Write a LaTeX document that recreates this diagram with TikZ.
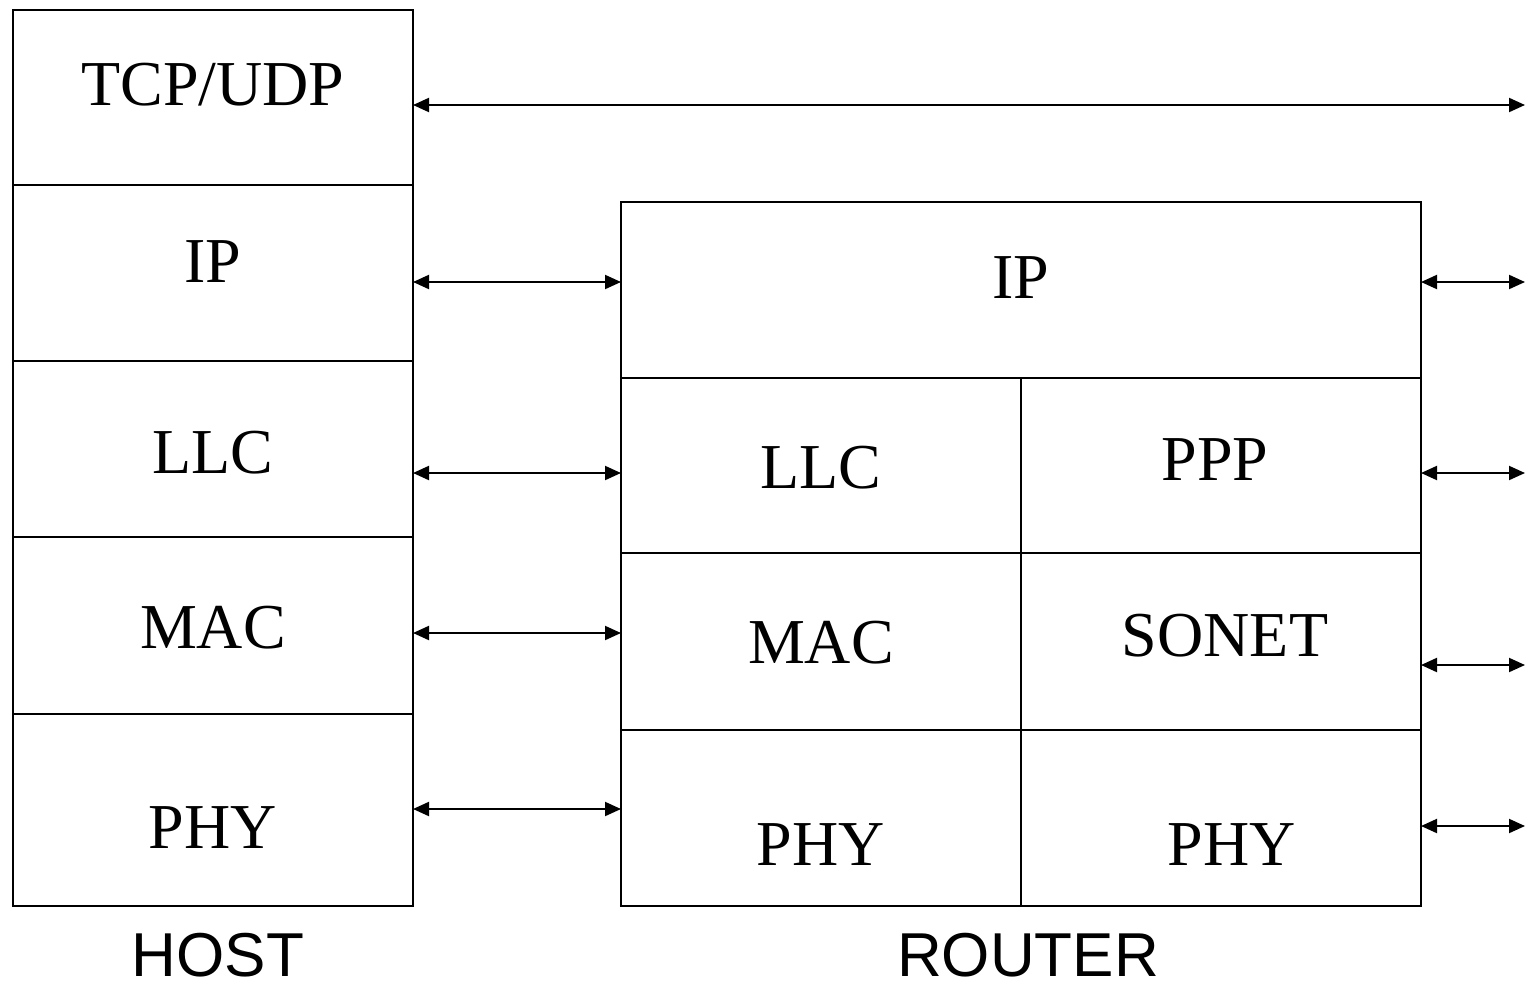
\documentclass[tikz,border=0pt]{standalone}
\usepackage{fontspec}
\setmainfont{Liberation Serif}
\newfontfamily\labelfont{Liberation Sans}
\usetikzlibrary{arrows.meta}
\tikzset{
  layer/.style={draw, line width=2pt, inner sep=0pt, outer sep=0pt},
  ltxt/.style={font=\fontsize{64}{70}\selectfont, inner sep=0pt, anchor=center},
  captext/.style={font=\labelfont\fontsize{62}{68}\selectfont, inner sep=0pt, anchor=base},
  link/.style={line width=2pt, {Triangle[length=16pt,width=14pt]}-{Triangle[length=16pt,width=14pt]}},
}
\begin{document}
\begin{tikzpicture}[x=1pt,y=-1pt]
\useasboundingbox (0,0) rectangle (1526,983);
% host layers
\draw[layer] (13,10) rectangle (413,185);
\draw[layer] (13,185) rectangle (413,361);
\draw[layer] (13,361) rectangle (413,537);
\draw[layer] (13,537) rectangle (413,714);
\draw[layer] (13,714) rectangle (413,906);
% router layers
\draw[layer] (621,202) rectangle (1421,378);
\draw[layer] (621,378) rectangle (1021,553);
\draw[layer] (1021,378) rectangle (1421,553);
\draw[layer] (621,553) rectangle (1021,730);
\draw[layer] (1021,553) rectangle (1421,730);
\draw[layer] (621,730) rectangle (1021,906);
\draw[layer] (1021,730) rectangle (1421,906);
% host texts
\node[ltxt] (htcp) at (213,85) {TCP/UDP};
\node[ltxt] (hip) at (213,262) {IP};
\node[ltxt] (hllc) at (213,453) {LLC};
\node[ltxt] (hmac) at (213,628) {MAC};
\node[ltxt] (hphy) at (213,828) {PHY};
% router texts
\node[ltxt] (rip) at (1021,278) {IP};
\node[ltxt] (rllc) at (821,468) {LLC};
\node[ltxt] (rppp) at (1215,460) {PPP};
\node[ltxt] (rmac) at (821,643) {MAC};
\node[ltxt] (rsonet) at (1225,636) {SONET};
\node[ltxt] (rphya) at (821,845) {PHY};
\node[ltxt] (rphyb) at (1232,845) {PHY};
% captions
\node[captext] (host) at (218,976) {HOST};
\node[captext] (router) at (1028,976) {ROUTER};
% connector endpoints
\coordinate (hA0) at (413,105);  \coordinate (rA0) at (1525,105);
\coordinate (hA1) at (413,282);  \coordinate (rL1) at (621,282);
\coordinate (hA2) at (413,473);  \coordinate (rL2) at (621,473);
\coordinate (hA3) at (413,633);  \coordinate (rL3) at (621,633);
\coordinate (hA4) at (413,809);  \coordinate (rL4) at (621,809);
\coordinate (rR1) at (1421,282); \coordinate (e1) at (1525,282);
\coordinate (rR2) at (1421,473); \coordinate (e2) at (1525,473);
\coordinate (rR3) at (1421,665); \coordinate (e3) at (1525,665);
\coordinate (rR4) at (1421,826); \coordinate (e4) at (1525,826);
\draw[link] (hA0) -- (rA0);
\draw[link] (hA1) -- (rL1);
\draw[link] (hA2) -- (rL2);
\draw[link] (hA3) -- (rL3);
\draw[link] (hA4) -- (rL4);
\draw[link] (rR1) -- (e1);
\draw[link] (rR2) -- (e2);
\draw[link] (rR3) -- (e3);
\draw[link] (rR4) -- (e4);
\end{tikzpicture}
\end{document}
